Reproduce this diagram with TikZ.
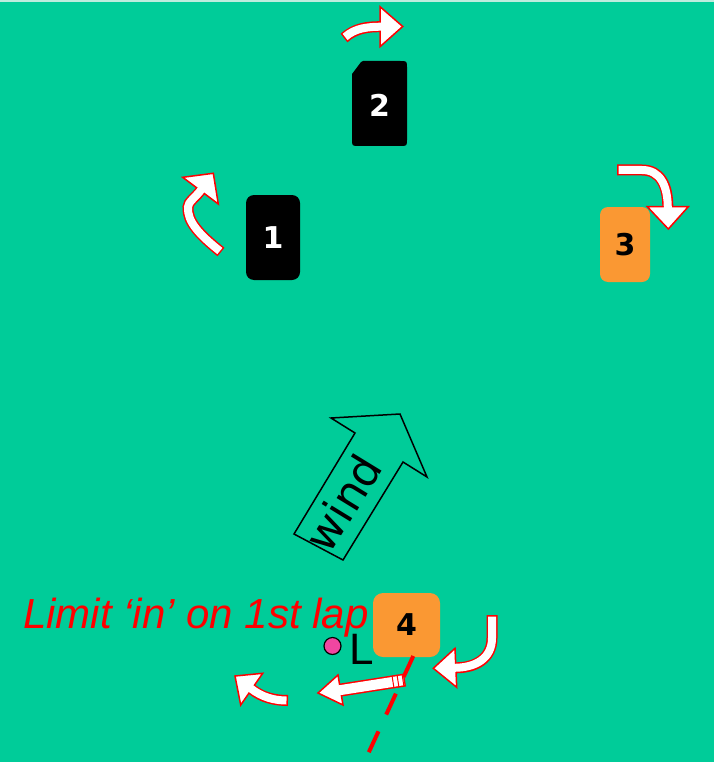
\documentclass[tikz,border=0pt]{standalone}
\usepackage{fontspec}
\setmainfont{Liberation Sans}
\newfontfamily\verd{DejaVu Sans}
\definecolor{sea}{RGB}{0,204,153}
\definecolor{sealight}{RGB}{190,236,222}
\definecolor{buoy}{RGB}{250,152,51}
\definecolor{pinkdot}{RGB}{240,70,160}
\newcommand\sailarrow[4]{%
  \draw[draw=red,line width=#1pt] #3;
  \filldraw[arrhead] #4;
  \draw[draw=white,line width=#2pt,shorten <=1.5pt,shorten >=-2pt] #3;}
\tikzset{
  board/.style={rounded corners=8pt, inner sep=0pt, font=\verd\bfseries\fontsize{30}{30}\selectfont},
  blackboard/.style={board, fill=black, text=white},
  orangeboard/.style={board, fill=buoy, text=black},
  arrhead/.style={fill=white, draw=red, line width=1.5pt, line join=miter},
}
\begin{document}
\begin{tikzpicture}[x=1pt,y=-1pt]
\useasboundingbox (0,0) rectangle (714,762);
\fill[sea] (0,0) rectangle (714,762);
\fill[sealight] (0,0) rectangle (714,2);

% wind arrow
\draw[line width=1.5pt, line join=miter] (294,534) -- (343,560) -- (403,462) -- (427,477) -- (400,414) -- (331,418) -- (355,433) -- cycle;
\node[rotate=58.5, inner sep=0pt, font=\verd\fontsize{44}{44}\selectfont] (wind) at (343,503) {wind};

% text
\node[anchor=base west, text=red, inner sep=0pt, font=\itshape\fontsize{42}{42}\selectfont] (lim) at (23,628) {Limit ‘in’ on 1st lap};
\node[circle, fill=pinkdot, draw=black, line width=1.2pt, minimum size=17pt, inner sep=0pt] (dot) at (332.5,646) {};
\node[anchor=base west, inner sep=0pt, font=\fontsize{44}{44}\selectfont] (L) at (349,664) {L};

% boards
\node[blackboard, minimum width=54pt, minimum height=85pt] (b1) at (273,237.5) {1};
\fill[black] (352,74) -- (361,62) .. controls (361.5,61.2) .. (363,61) -- (400,61) .. controls (407,61) .. (407,68) -- (407,139) .. controls (407,146) .. (400,146) -- (359,146) .. controls (352,146) .. (352,139) -- cycle;
\node[inner sep=0pt, text=white, font=\verd\bfseries\fontsize{30}{30}\selectfont] (b2) at (379.5,105) {2};
\node[orangeboard, minimum width=50pt, minimum height=75pt] (b3) at (625,244.5) {3};
\node[orangeboard, minimum width=67pt, minimum height=64pt, rounded corners=10pt] (b4) at (406.5,625) {4};

% dashed line
\coordinate (dashtop) at (413.3,656);
\coordinate (dashend) at (368.3,753.3);
\draw[red, line width=4pt, dash pattern=on 23pt off 18.5pt] (dashtop) -- (dashend);

% rounding arrows
\sailarrow{11}{8}{(221,252) .. controls (200,235) and (187,222) .. (188,207) .. controls (188,202) and (195.5,197.5) .. (200.5,190.7)}{(213.3,173.3) -- (182.7,177.3) -- (218.3,204) -- cycle}
\sailarrow{11}{8}{(344,38) .. controls (355,28) and (368,26.7) .. (380,26.7)}{(402.7,26.5) -- (380,6.7) -- (380,46.7) -- cycle}
\sailarrow{11}{8}{(617,170) -- (642,170) .. controls (660,170) and (667.8,185) .. (667.8,206.7)}{(668.3,229) -- (647.3,206.7) -- (688.3,206.7) -- cycle}
\sailarrow{11}{8}{(492,615) -- (492,638) .. controls (492,658) and (476,667.8) .. (455.8,667.8)}{(433.3,668.3) -- (455,648.3) -- (456.7,687.3) -- cycle}
\sailarrow{13}{10}{(405,680) -- (341,690)}{(318,693) -- (338,675) -- (343,705) -- cycle}
\draw[red, line width=1pt] (392,675.5) -- (394,688.3) (397,674.7) -- (399,687.5) (402,673.9) -- (404,686.7);
\sailarrow{11}{8}{(288,700.5) .. controls (275,700.5) and (262,697.5) .. (251.7,689.2)}{(235,676) -- (262.7,673.3) -- (240.7,705) -- cycle}
\end{tikzpicture}
\end{document}
